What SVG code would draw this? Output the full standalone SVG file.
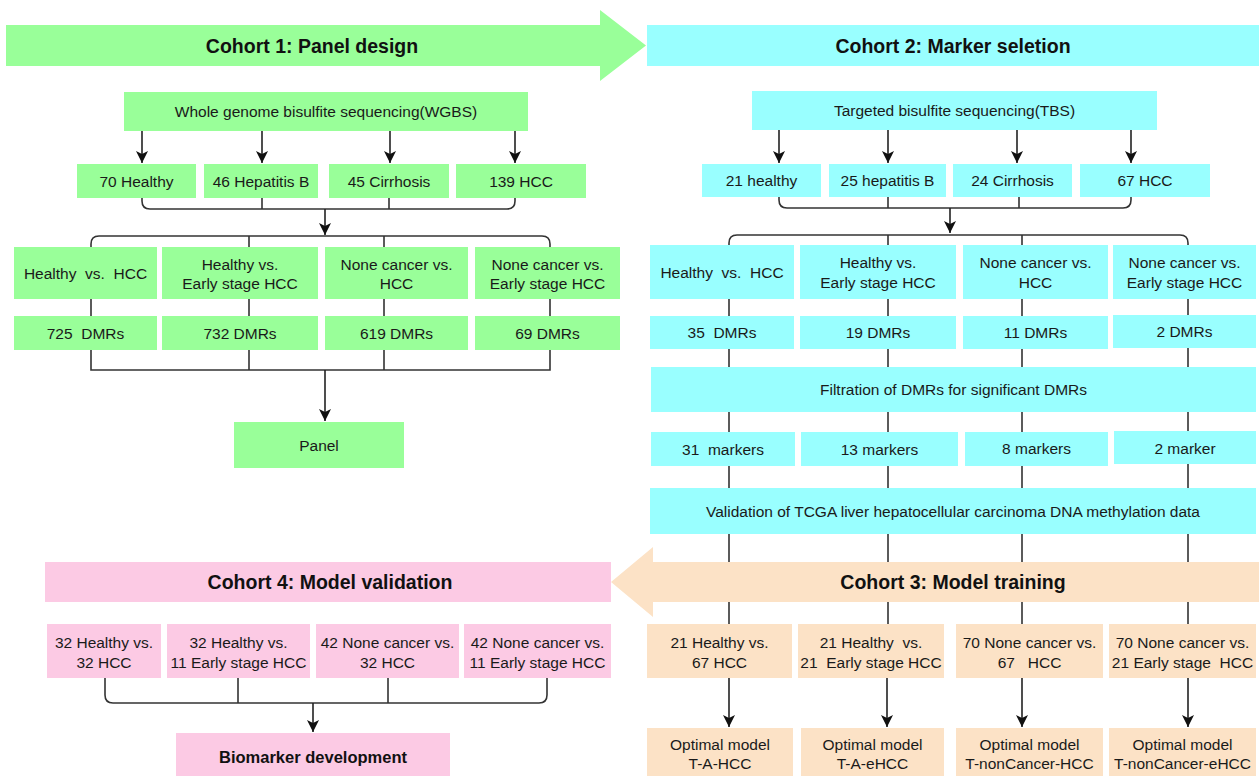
<svg xmlns="http://www.w3.org/2000/svg" width="1259" height="776" viewBox="0 0 1259 776">
<style>
text{font-family:"Liberation Sans",Arial,sans-serif;font-size:15.5px;fill:#1a1a1a;text-anchor:middle}
.b{font-weight:bold;font-size:19.5px;fill:#111}
.bb{font-weight:bold;font-size:16.5px;fill:#111}
.g{fill:#99FF99}
.c{fill:#99FFFF}
.o{fill:#FCE2C6}
.p{fill:#FCCAE4}
.ln{fill:none;stroke:#333;stroke-width:1.6}
.ar{fill:none;stroke:#222;stroke-width:1.6;marker-end:url(#ah)}
</style>
<defs>
<marker id="ah" viewBox="0 0 12 12" refX="12" refY="6" markerWidth="12" markerHeight="12" markerUnits="userSpaceOnUse" orient="auto">
<path d="M0,0 L12,6 L0,12 L3,6 Z" fill="#111"/>
</marker>
</defs>
<rect width="1259" height="776" fill="#fff"/>
<g id="connectors">
<!-- left column -->
<line class="ar" x1="142" y1="131" x2="142" y2="163"/>
<line class="ar" x1="262" y1="131" x2="262" y2="163"/>
<line class="ar" x1="390" y1="131" x2="390" y2="163"/>
<line class="ar" x1="515" y1="131" x2="515" y2="163"/>
<path class="ln" d="M142,198 V201 Q142,209 150,209 H507 Q515,209 515,201 V198 M262,198 V209 M389,198 V209"/>
<line class="ar" x1="325" y1="209" x2="325" y2="235"/>
<path class="ln" d="M91,248 V244 Q91,236 99,236 H542 Q550,236 550,244 V248 M249,236 V248 M384,236 V248"/>
<path class="ln" d="M91,299 V317 M249,299 V317 M384,299 V317 M550,299 V317"/>
<path class="ln" d="M91,349 V370 H550 V349 M249,349 V370 M384,349 V370"/>
<line class="ar" x1="325" y1="370" x2="325" y2="421"/>
<!-- right column -->
<line class="ar" x1="779" y1="130" x2="779" y2="163"/>
<line class="ar" x1="888" y1="130" x2="888" y2="163"/>
<line class="ar" x1="1017" y1="130" x2="1017" y2="163"/>
<line class="ar" x1="1131" y1="130" x2="1131" y2="163"/>
<path class="ln" d="M779,197 V200 Q779,208 787,208 H1123 Q1131,208 1131,200 V197 M888,197 V208 M1019,197 V208"/>
<line class="ar" x1="950" y1="208" x2="950" y2="233"/>
<path class="ln" d="M729,624 V243 Q729,235 737,235 H1180 Q1188,235 1188,243 V624 M888,235 V624 M1022,235 V624"/>
<line class="ar" x1="729" y1="678" x2="729" y2="727"/>
<line class="ar" x1="887" y1="678" x2="887" y2="727"/>
<line class="ar" x1="1022" y1="678" x2="1022" y2="727"/>
<line class="ar" x1="1188" y1="678" x2="1188" y2="727"/>
<!-- cohort 4 -->
<path class="ln" d="M105,678 V695 Q105,703 113,703 H539 Q547,703 547,695 V678 M238,678 V703 M388,678 V703"/>
<line class="ar" x1="313" y1="703" x2="313" y2="732"/>
</g>

<g id="cohort1-banner"><polygon class="g" points="6,25 600,25 600,10 646,45.5 600,81 600,66 6,66"/><text class="b" x="312" y="52.5">Cohort 1: Panel design</text></g>
<g id="cohort2-banner"><rect class="c" x="647" y="25" width="612" height="41"/><text class="b" x="953" y="52.5">Cohort 2: Marker seletion</text></g>

<g id="wgbs"><rect class="g" x="124" y="92" width="404" height="39"/><text x="326" y="117">Whole genome bisulfite sequencing(WGBS)</text></g>
<g id="l-healthy"><rect class="g" x="77" y="164" width="119" height="34"/><text x="136.5" y="186.5">70 Healthy</text></g>
<g id="l-hepb"><rect class="g" x="204" y="164" width="114" height="34"/><text x="261" y="186.5">46 Hepatitis B</text></g>
<g id="l-cirr"><rect class="g" x="329" y="164" width="120" height="34"/><text x="389" y="186.5">45 Cirrhosis</text></g>
<g id="l-hcc"><rect class="g" x="456" y="164" width="130" height="34"/><text x="521" y="186.5">139 HCC</text></g>

<g id="l-cmp1"><rect class="g" x="14" y="247" width="143" height="52"/><text x="85.5" y="278.5" xml:space="preserve">Healthy  vs.  HCC</text></g>
<g id="l-cmp2"><rect class="g" x="162" y="247" width="156" height="52"/><text x="240" y="269.5">Healthy vs.</text><text x="240" y="288.5">Early stage HCC</text></g>
<g id="l-cmp3"><rect class="g" x="325" y="247" width="143" height="52"/><text x="396.5" y="269.5">None cancer vs.</text><text x="396.5" y="288.5">HCC</text></g>
<g id="l-cmp4"><rect class="g" x="475" y="247" width="145" height="52"/><text x="547.5" y="269.5">None cancer vs.</text><text x="547.5" y="288.5">Early stage HCC</text></g>

<g id="l-dmr1"><rect class="g" x="14" y="316" width="143" height="34"/><text x="85.5" y="338.5" xml:space="preserve">725  DMRs</text></g>
<g id="l-dmr2"><rect class="g" x="162" y="316" width="156" height="34"/><text x="240" y="338.5">732 DMRs</text></g>
<g id="l-dmr3"><rect class="g" x="325" y="316" width="143" height="34"/><text x="396.5" y="338.5">619 DMRs</text></g>
<g id="l-dmr4"><rect class="g" x="475" y="316" width="145" height="34"/><text x="547.5" y="338.5">69 DMRs</text></g>

<g id="panel"><rect class="g" x="234" y="422" width="170" height="46"/><text x="319" y="450.5">Panel</text></g>

<g id="tbs"><rect class="c" x="752" y="91" width="405" height="39"/><text x="954.5" y="116">Targeted bisulfite sequencing(TBS)</text></g>
<g id="r-healthy"><rect class="c" x="702" y="164" width="119" height="33"/><text x="761.5" y="186">21 healthy</text></g>
<g id="r-hepb"><rect class="c" x="829" y="164" width="117" height="33"/><text x="887.5" y="186">25 hepatitis B</text></g>
<g id="r-cirr"><rect class="c" x="953" y="164" width="119" height="33"/><text x="1012.5" y="186">24 Cirrhosis</text></g>
<g id="r-hcc"><rect class="c" x="1080" y="164" width="130" height="33"/><text x="1145" y="186">67 HCC</text></g>

<g id="r-cmp1"><rect class="c" x="650" y="245" width="144" height="54"/><text x="722" y="277.5" xml:space="preserve">Healthy  vs.  HCC</text></g>
<g id="r-cmp2"><rect class="c" x="800" y="245" width="156" height="54"/><text x="878" y="268">Healthy vs.</text><text x="878" y="287.5">Early stage HCC</text></g>
<g id="r-cmp3"><rect class="c" x="963" y="245" width="145" height="54"/><text x="1035.5" y="268">None cancer vs.</text><text x="1035.5" y="287.5">HCC</text></g>
<g id="r-cmp4"><rect class="c" x="1113" y="245" width="143" height="54"/><text x="1184.5" y="268">None cancer vs.</text><text x="1184.5" y="287.5">Early stage HCC</text></g>

<g id="r-dmr1"><rect class="c" x="650" y="316" width="144" height="33"/><text x="722" y="338" xml:space="preserve">35  DMRs</text></g>
<g id="r-dmr2"><rect class="c" x="800" y="316" width="156" height="33"/><text x="878" y="338">19 DMRs</text></g>
<g id="r-dmr3"><rect class="c" x="963" y="316" width="145" height="33"/><text x="1035.5" y="338">11 DMRs</text></g>
<g id="r-dmr4"><rect class="c" x="1113" y="315" width="143" height="33"/><text x="1184.5" y="337">2 DMRs</text></g>

<g id="filtration"><rect class="c" x="651" y="367" width="605" height="45"/><text x="953.5" y="395">Filtration of DMRs for significant DMRs</text></g>

<g id="m1"><rect class="c" x="651" y="432" width="144" height="34"/><text x="723" y="454.5" xml:space="preserve">31  markers</text></g>
<g id="m2"><rect class="c" x="801" y="432" width="157" height="34"/><text x="879.5" y="454.5">13 markers</text></g>
<g id="m3"><rect class="c" x="965" y="432" width="143" height="34"/><text x="1036.5" y="453.5">8 markers</text></g>
<g id="m4"><rect class="c" x="1114" y="431" width="142" height="33"/><text x="1185" y="453.5">2 marker</text></g>

<g id="validation"><rect class="c" x="650" y="488" width="606" height="46"/><text x="953" y="516.5">Validation of TCGA liver hepatocellular carcinoma DNA methylation data</text></g>

<g id="cohort3-banner"><polygon class="o" points="1259,562 653,562 653,547 611,582 653,617 653,602 1259,602"/><text class="b" x="953" y="589">Cohort 3: Model training</text></g>
<g id="cohort4-banner"><rect class="p" x="45" y="562" width="566" height="40"/><text class="b" x="330" y="589">Cohort 4: Model validation</text></g>

<g id="t1"><rect class="o" x="647" y="624" width="145" height="54"/><text x="719.5" y="647.5">21 Healthy vs.</text><text x="719.5" y="667.5">67 HCC</text></g>
<g id="t2"><rect class="o" x="798" y="624" width="146" height="54"/><text x="871" y="647.5" xml:space="preserve">21 Healthy  vs.</text><text x="871" y="667.5" xml:space="preserve">21  Early stage HCC</text></g>
<g id="t3"><rect class="o" x="956" y="624" width="147" height="54"/><text x="1029.5" y="647.5">70 None cancer vs.</text><text x="1029.5" y="667.5" xml:space="preserve">67   HCC</text></g>
<g id="t4"><rect class="o" x="1109" y="624" width="147" height="54"/><text x="1182.5" y="647.5">70 None cancer vs.</text><text x="1182.5" y="667.5" xml:space="preserve">21 Early stage  HCC</text></g>

<g id="opt1"><rect class="o" x="647" y="728" width="146" height="48"/><text x="720" y="749.5">Optimal model</text><text x="720" y="768.5">T-A-HCC</text></g>
<g id="opt2"><rect class="o" x="801" y="728" width="143" height="48"/><text x="872.5" y="749.5">Optimal model</text><text x="872.5" y="768.5">T-A-eHCC</text></g>
<g id="opt3"><rect class="o" x="956" y="728" width="147" height="48"/><text x="1029.5" y="749.5">Optimal model</text><text x="1029.5" y="768.5">T-nonCancer-HCC</text></g>
<g id="opt4"><rect class="o" x="1109" y="728" width="147" height="48"/><text x="1182.5" y="749.5">Optimal model</text><text x="1182.5" y="768.5">T-nonCancer-eHCC</text></g>

<g id="v1"><rect class="p" x="47" y="624" width="114" height="54"/><text x="104" y="647.5">32 Healthy vs.</text><text x="104" y="667.5">32 HCC</text></g>
<g id="v2"><rect class="p" x="167" y="624" width="143" height="54"/><text x="238.5" y="647.5">32 Healthy vs.</text><text x="238.5" y="667.5">11 Early stage HCC</text></g>
<g id="v3"><rect class="p" x="316" y="624" width="143" height="54"/><text x="387.5" y="647.5">42 None cancer vs.</text><text x="387.5" y="667.5">32 HCC</text></g>
<g id="v4"><rect class="p" x="464" y="624" width="147" height="54"/><text x="537.5" y="647.5">42 None cancer vs.</text><text x="537.5" y="667.5">11 Early stage HCC</text></g>

<g id="biomarker"><rect class="p" x="176" y="733" width="274" height="43"/><text class="bb" x="313" y="763">Biomarker development</text></g>
</svg>
